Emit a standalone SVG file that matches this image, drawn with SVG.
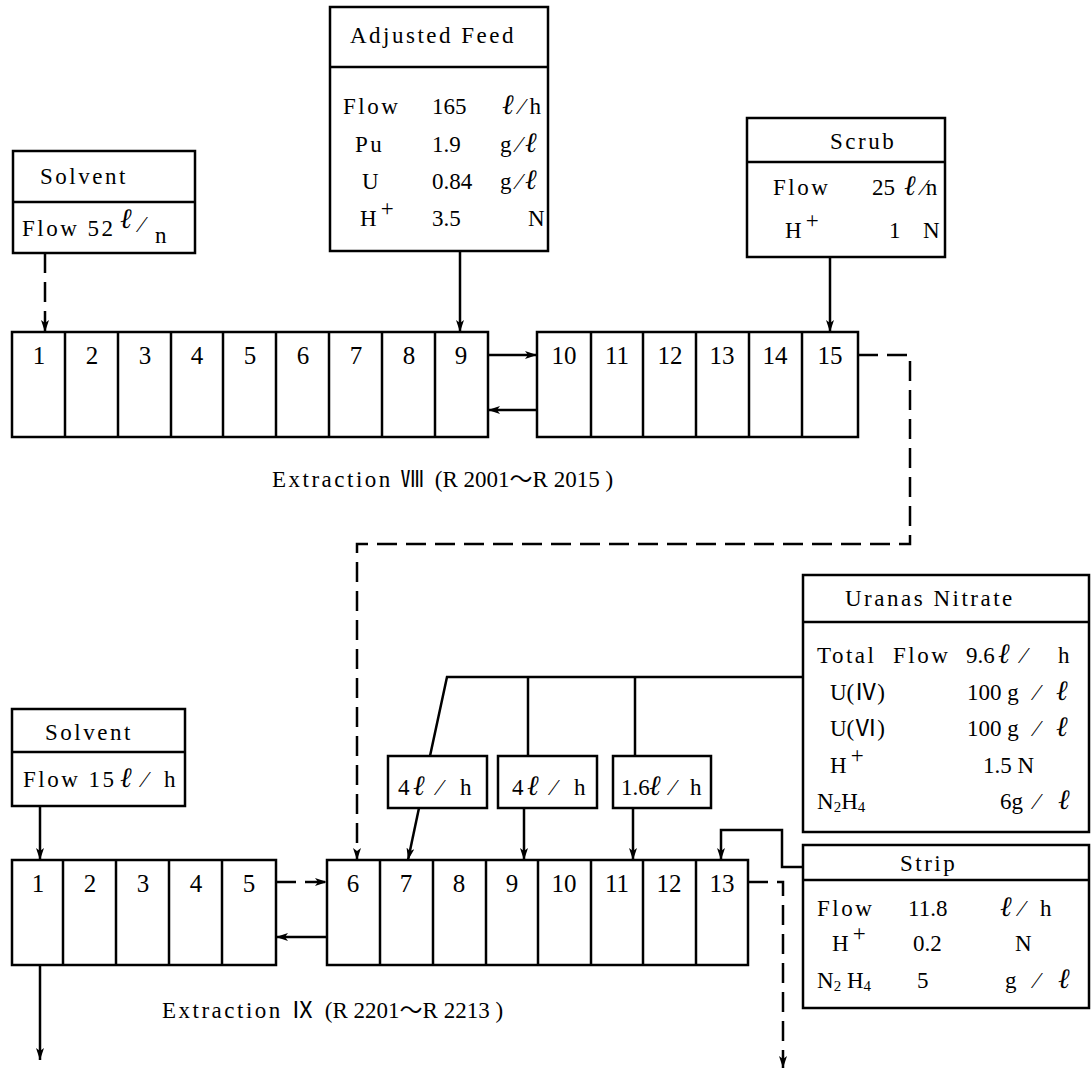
<svg xmlns="http://www.w3.org/2000/svg" width="1091" height="1075" viewBox="0 0 1091 1075">
<defs>
<marker id="ah" viewBox="0 0 12 8" refX="12" refY="4" markerWidth="12" markerHeight="8" markerUnits="userSpaceOnUse" orient="auto">
<path d="M0,0 L12,4 L0,8 L3,4 Z" fill="#000"/>
</marker>
<style>
rect,.box{fill:#fff;stroke:#000;stroke-width:2.5}
line,path.c{stroke:#000;stroke-width:2.5;fill:none}
.d{stroke-dasharray:20 9}
text{font-family:"Liberation Serif","Noto Sans CJK JP",serif;font-size:23px;fill:#000}
.n{text-anchor:middle;font-size:25px}
.sp{letter-spacing:2.5px}
.s{font-size:15px}
.l{font-size:28px;font-style:italic}
</style>
</defs>
<rect width="1091" height="1075" fill="#fff" style="stroke:none"/>

<g id="solvent1">
<rect x="13" y="151" width="182" height="102"/>
<line x1="13" y1="202" x2="195" y2="202"/>
<text x="40" y="184" class="sp">Solvent</text>
<text x="22" y="236" class="sp">Flow 52</text>
<text x="120" y="228" class="l">ℓ</text><text x="140" y="232">∕</text><text x="155" y="243">n</text>
</g>

<g id="feed">
<rect x="330" y="7" width="218" height="244"/>
<line x1="330" y1="67" x2="548" y2="67"/>
<text x="350" y="43" class="sp">Adjusted Feed</text>
<text x="343" y="114" class="sp">Flow</text><text x="432" y="114">165</text><text x="502" y="114" class="l">ℓ</text><text x="520" y="114">∕ h</text>
<text x="355" y="152" class="sp">Pu</text><text x="432" y="152">1.9</text><text x="500" y="152">g ∕</text><text x="525" y="152" class="l">ℓ</text>
<text x="362" y="189">U</text><text x="432" y="189">0.84</text><text x="500" y="189">g ∕</text><text x="525" y="189" class="l">ℓ</text>
<text x="360" y="226">H<tspan dy="-10" dx="4">+</tspan></text><text x="432" y="226">3.5</text><text x="528" y="226">N</text>
</g>

<g id="scrub">
<rect x="747" y="118" width="198" height="139"/>
<line x1="747" y1="162" x2="945" y2="162"/>
<text x="830" y="149" class="sp">Scrub</text>
<text x="773" y="195" class="sp">Flow</text><text x="872" y="195">25</text><text x="904" y="195" class="l">ℓ</text><text x="922" y="195">∕n</text>
<text x="785" y="238">H<tspan dy="-10" dx="4">+</tspan></text><text x="889" y="238">1</text><text x="923" y="238">N</text>
</g>

<g id="ext8a">
<rect x="12" y="332" width="476" height="105"/>
<line x1="65" y1="332" x2="65" y2="437"/><line x1="118" y1="332" x2="118" y2="437"/><line x1="171" y1="332" x2="171" y2="437"/>
<line x1="223" y1="332" x2="223" y2="437"/><line x1="276" y1="332" x2="276" y2="437"/><line x1="329" y1="332" x2="329" y2="437"/>
<line x1="382" y1="332" x2="382" y2="437"/><line x1="435" y1="332" x2="435" y2="437"/>
<text class="n" x="39" y="364">1</text><text class="n" x="92" y="364">2</text><text class="n" x="145" y="364">3</text>
<text class="n" x="197" y="364">4</text><text class="n" x="250" y="364">5</text><text class="n" x="303" y="364">6</text>
<text class="n" x="356" y="364">7</text><text class="n" x="409" y="364">8</text><text class="n" x="461" y="364">9</text>
</g>

<g id="ext8b">
<rect x="537" y="332" width="321" height="105"/>
<line x1="591" y1="332" x2="591" y2="437"/><line x1="643" y1="332" x2="643" y2="437"/><line x1="696" y1="332" x2="696" y2="437"/>
<line x1="749" y1="332" x2="749" y2="437"/><line x1="802" y1="332" x2="802" y2="437"/>
<text class="n" x="564" y="364">10</text><text class="n" x="617" y="364">11</text><text class="n" x="670" y="364">12</text>
<text class="n" x="722" y="364">13</text><text class="n" x="775" y="364">14</text><text class="n" x="830" y="364">15</text>
</g>

<text id="cap8" x="272" y="487"><tspan class="sp">Extraction Ⅷ </tspan>(R 2001～R 2015 )</text>

<g id="uranas">
<rect x="803" y="575" width="286" height="257"/>
<line x1="803" y1="622" x2="1089" y2="622"/>
<text x="845" y="606" class="sp">Uranas Nitrate</text>
<text x="817" y="663" class="sp">Total</text><text x="893" y="663" class="sp">Flow</text><text x="966" y="663">9.6</text><text x="998" y="663" class="l">ℓ</text><text x="1022" y="663">∕</text><text x="1058" y="663">h</text>
<text x="830" y="700">U(Ⅳ)</text><text x="967" y="700">100 g</text><text x="1035" y="700">∕</text><text x="1056" y="700" class="l">ℓ</text>
<text x="830" y="736">U(Ⅵ)</text><text x="967" y="736">100 g</text><text x="1035" y="736">∕</text><text x="1056" y="736" class="l">ℓ</text>
<text x="830" y="773">H<tspan dy="-10" dx="4">+</tspan></text><text x="983" y="773">1.5  N</text>
<text x="817" y="809">N<tspan class="s" dy="3">2</tspan><tspan dy="-3">H</tspan><tspan class="s" dy="3">4</tspan></text><text x="1000" y="809">6g</text><text x="1035" y="809">∕</text><text x="1058" y="809" class="l">ℓ</text>
</g>

<g id="f1"><rect x="388" y="756" width="99" height="52"/><text x="398" y="795">4</text><text x="413" y="795" class="l">ℓ</text><text x="438" y="795">∕</text><text x="460" y="795">h</text></g>
<g id="f2"><rect x="498" y="756" width="99" height="52"/><text x="512" y="795">4</text><text x="527" y="795" class="l">ℓ</text><text x="552" y="795">∕</text><text x="574" y="795">h</text></g>
<g id="f3"><rect x="613" y="756" width="98" height="52"/><text x="621" y="795">1.6</text><text x="649" y="795" class="l">ℓ</text><text x="671" y="795">∕</text><text x="690" y="795">h</text></g>

<g id="solvent2">
<rect x="12" y="709" width="173" height="97"/>
<line x1="12" y1="752" x2="185" y2="752"/>
<text x="45" y="740" class="sp">Solvent</text>
<text x="23" y="787" class="sp">Flow 15</text><text x="120" y="787" class="l">ℓ</text><text x="143" y="787">∕</text><text x="164" y="787">h</text>
</g>

<g id="strip">
<rect x="803" y="845" width="286" height="163"/>
<line x1="803" y1="880" x2="1089" y2="880"/>
<text x="900" y="871" class="sp">Strip</text>
<text x="817" y="916" class="sp">Flow</text><text x="908" y="916">11.8</text><text x="1000" y="916" class="l">ℓ</text><text x="1020" y="916">∕</text><text x="1040" y="916">h</text>
<text x="832" y="951">H<tspan dy="-10" dx="4">+</tspan></text><text x="913" y="951">0.2</text><text x="1015" y="951">N</text>
<text x="817" y="988">N<tspan class="s" dy="3">2</tspan><tspan dy="-3"> H</tspan><tspan class="s" dy="3">4</tspan></text><text x="917" y="988">5</text><text x="1005" y="988">g</text><text x="1035" y="988">∕</text><text x="1058" y="988" class="l">ℓ</text>
</g>

<g id="ext9a">
<rect x="12" y="860" width="264" height="105"/>
<line x1="63" y1="860" x2="63" y2="965"/><line x1="116" y1="860" x2="116" y2="965"/><line x1="169" y1="860" x2="169" y2="965"/><line x1="222" y1="860" x2="222" y2="965"/>
<text class="n" x="38" y="892">1</text><text class="n" x="90" y="892">2</text><text class="n" x="143" y="892">3</text><text class="n" x="196" y="892">4</text><text class="n" x="249" y="892">5</text>
</g>

<g id="ext9b">
<rect x="327" y="860" width="421" height="105"/>
<line x1="380" y1="860" x2="380" y2="965"/><line x1="433" y1="860" x2="433" y2="965"/><line x1="486" y1="860" x2="486" y2="965"/>
<line x1="538" y1="860" x2="538" y2="965"/><line x1="591" y1="860" x2="591" y2="965"/><line x1="643" y1="860" x2="643" y2="965"/><line x1="696" y1="860" x2="696" y2="965"/>
<text class="n" x="353" y="892">6</text><text class="n" x="406" y="892">7</text><text class="n" x="459" y="892">8</text><text class="n" x="512" y="892">9</text>
<text class="n" x="564" y="892">10</text><text class="n" x="617" y="892">11</text><text class="n" x="669" y="892">12</text><text class="n" x="722" y="892">13</text>
</g>

<text id="cap9" x="162" y="1018"><tspan class="sp">Extraction Ⅸ </tspan>(R 2201～R 2213 )</text>

<g id="connectors">
<line class="d" x1="45" y1="253" x2="45" y2="332" marker-end="url(#ah)"/>
<line x1="460" y1="251" x2="460" y2="332" marker-end="url(#ah)"/>
<line x1="830" y1="257" x2="830" y2="332" marker-end="url(#ah)"/>
<line x1="488" y1="355" x2="537" y2="355" marker-end="url(#ah)"/>
<line x1="537" y1="410" x2="488" y2="410" marker-end="url(#ah)"/>
<path class="c d" d="M858,355 H910 V544 H357 V860" marker-end="url(#ah)"/>
<path class="c" d="M803,677 H447 L430,756"/>
<line x1="528" y1="677" x2="528" y2="756"/>
<line x1="635" y1="677" x2="635" y2="756"/>
<line x1="419" y1="808" x2="408" y2="860" marker-end="url(#ah)"/>
<line x1="524" y1="808" x2="524" y2="860" marker-end="url(#ah)"/>
<line x1="633" y1="808" x2="633" y2="860" marker-end="url(#ah)"/>
<path class="c" d="M803,867 H782 V830 H721 V860" marker-end="url(#ah)"/>
<line x1="40" y1="806" x2="40" y2="860" marker-end="url(#ah)"/>
<line class="d" x1="276" y1="882" x2="327" y2="882" marker-end="url(#ah)"/>
<line x1="327" y1="937" x2="276" y2="937" marker-end="url(#ah)"/>
<path class="c d" d="M748,882 H783 V1068" marker-end="url(#ah)"/>
<line x1="40" y1="965" x2="40" y2="1060" marker-end="url(#ah)"/>
</g>
</svg>
